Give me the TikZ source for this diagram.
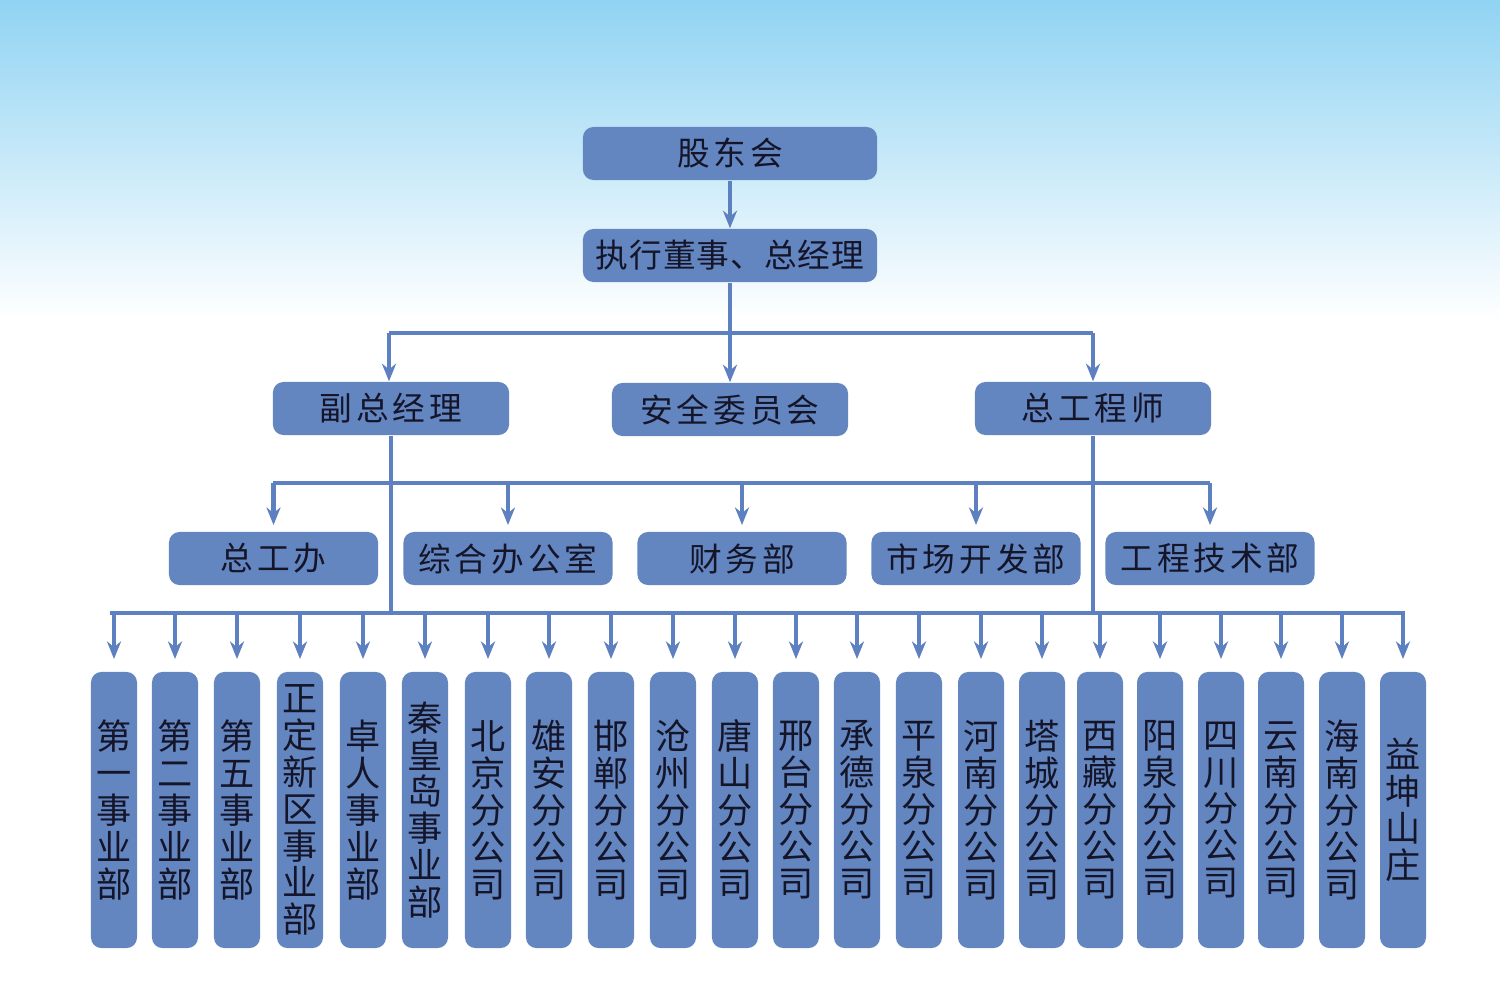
\documentclass[tikz,border=0pt]{standalone}
\usepackage{fontspec}
\newfontfamily\cjk[LetterSpace=12]{Noto Sans CJK SC}
\newfontfamily\cjkt[LetterSpace=3]{Noto Sans CJK SC}
\newfontfamily\cjkv{Noto Sans CJK SC}
\usetikzlibrary{arrows.meta}
\definecolor{boxc}{HTML}{6386C0}
\definecolor{linec}{HTML}{5C80C0}
\definecolor{txt}{HTML}{15152A}
\definecolor{sky}{HTML}{90D3F2}
\begin{document}
\begin{tikzpicture}[x=0.01cm,y=-0.01cm,
  box/.style={fill=boxc,rounded corners=3pt,text=txt,inner sep=0pt},
  hb/.style={box,font=\cjk\fontsize{9.3pt}{10pt}\selectfont,minimum height=0.53cm},
  vb/.style={box,minimum width=0.46cm,minimum height=2.76cm,align=center,font=\cjkv\fontsize{10pt}{10.5pt}\selectfont},
  ln/.style={draw=linec,line width=1.3pt},
  ar/.style={ln,-{Stealth[length=5pt,width=4pt]}}]
\shade[top color=sky, bottom color=white] (0,0) rectangle (1500,320);
\fill[white] (0,320) rectangle (1500,1003);
\useasboundingbox (0,0) rectangle (1500,1003);
\node[hb,minimum width=2.94cm] (gd) at (730,153.5) {股东会};
\node[hb,minimum width=2.94cm,font=\cjkt\fontsize{9.3pt}{10pt}\selectfont] (zx) at (730,255.5) {执行董事、总经理};
\node[hb,minimum width=2.36cm] (fz) at (391,408.5) {副总经理};
\node[hb,minimum width=2.36cm] (aq) at (730,409.5) {安全委员会};
\node[hb,minimum width=2.36cm] (zg) at (1093,408.5) {总工程师};
\node[hb,minimum width=2.09cm] (b1) at (273.5,558.5) {总工办};
\node[hb,minimum width=2.09cm] (b2) at (508,558.5) {综合办公室};
\node[hb,minimum width=2.09cm] (b3) at (742,558.5) {财务部};
\node[hb,minimum width=2.09cm] (b4) at (976,558.5) {市场开发部};
\node[hb,minimum width=2.09cm] (b5) at (1210,558.5) {工程技术部};
\draw[ar] (gd) -- (zx);
\coordinate (l1) at (389,333);
\coordinate (r1) at (1093,333);
\draw[ar] (zx) -- (aq);
\draw[ln] (l1) -- (r1);
\draw[ar] (l1) -- (l1 |- fz.north);
\draw[ar] (r1) -- (r1 |- zg.north);
\coordinate (l2) at (273,483);
\coordinate (r2) at (1210,483);
\draw[ln] (l2) -- (r2);
\foreach \n in {b1,b2,b3,b4,b5}{\draw[ar] (\n.north |- l2) -- ++(0,42);}
\coordinate (l3) at (110,613);
\coordinate (r3) at (1405,613);
\draw[ln] (fz.south) -- (fz.south |- l3);
\draw[ln] (zg.south) -- (zg.south |- l3);
\draw[ln] (l3) -- (r3);
\foreach \x/\t [count=\i] in {114/第\\一\\事\\业\\部,175/第\\二\\事\\业\\部,237/第\\五\\事\\业\\部,300/正\\定\\新\\区\\事\\业\\部,363/卓\\人\\事\\业\\部,425/秦\\皇\\岛\\事\\业\\部,488/北\\京\\分\\公\\司,549/雄\\安\\分\\公\\司,611/邯\\郸\\分\\公\\司,673/沧\\州\\分\\公\\司,735/唐\\山\\分\\公\\司,796/邢\\台\\分\\公\\司,857/承\\德\\分\\公\\司,919/平\\泉\\分\\公\\司,981/河\\南\\分\\公\\司,1042/塔\\城\\分\\公\\司,1100/西\\藏\\分\\公\\司,1160/阳\\泉\\分\\公\\司,1221/四\\川\\分\\公\\司,1281/云\\南\\分\\公\\司,1342/海\\南\\分\\公\\司,1403/益\\坤\\山\\庄}{
  \node[vb] (c\i) at (\x,810) {\t};
  \draw[ar] (c\i.north |- l3) -- ++(0,46);
}
\end{tikzpicture}
\end{document}
